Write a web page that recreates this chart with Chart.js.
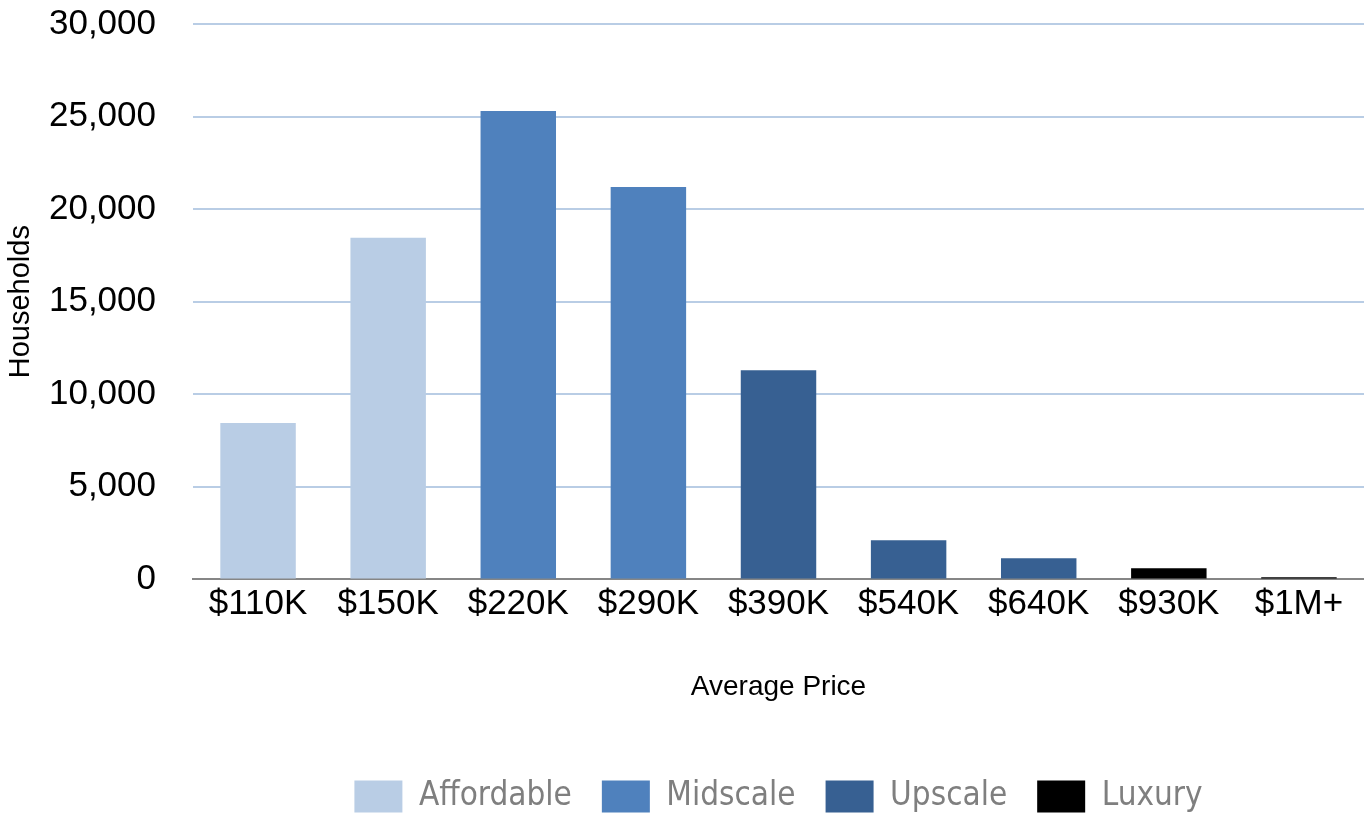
<!DOCTYPE html>
<html>
<head>
<meta charset="utf-8">
<script src="https://cdn.jsdelivr.net/npm/chart.js@4.4.1/dist/chart.umd.min.js"></script>
<style>
    html, body { margin: 0; padding: 0; background: #fff; }
    #wrap { width: 1364px; height: 815px; position: relative; }
</style>
</head>
<body>
<div id="wrap"><canvas id="priceChart"></canvas></div>
<script>
const categories = ['$110K', '$150K', '$220K', '$290K', '$390K', '$540K', '$640K', '$930K', '$1M+'];
const households = [8450, 18450, 25300, 21200, 11300, 2120, 1140, 600, 120];
const segmentOf = ['Affordable', 'Affordable', 'Midscale', 'Midscale', 'Upscale', 'Upscale', 'Upscale', 'Luxury', 'Luxury'];
const segments = ['Affordable', 'Midscale', 'Upscale', 'Luxury'];
const segmentColors = ['#b9cde5', '#4f81bd', '#376092', '#000000'];
const yTicks = [0, 5000, 10000, 15000, 20000, 25000, 30000];

// one dataset per segment, null where the bar belongs to another segment
const datasets = segments.map((seg, i) => ({
    label: seg,
    data: households.map((v, j) => segmentOf[j] === seg ? v : null),
    backgroundColor: segmentColors[i],
    borderWidth: 0,
    barPercentage: 0.58,
    categoryPercentage: 1.0
}));

const tickFont = { family: 'Liberation Sans', size: 35 };

// trim the empty strip under the legend
const legendTrim = {
    id: 'legendTrim',
    beforeLayout(chart) {
        const lg = chart.legend;
        if (!lg || lg._trimmed) return;
        const fit = lg.fit;
        lg.fit = function () { fit.call(this); this.height -= 8; };
        lg._trimmed = true;
    }
};

new Chart(document.getElementById('priceChart').getContext('2d'), {
    type: 'bar',
    data: { labels: categories, datasets: datasets },
    plugins: [legendTrim],
    options: {
        responsive: true,
        maintainAspectRatio: false,
        animation: false,
        layout: { padding: { top: 24, right: 0, bottom: 0, left: 0 } },
        plugins: {
            tooltip: { enabled: false },
            legend: {
                position: 'bottom',
                fullSize: false,
                labels: {
                    boxWidth: 48,
                    boxHeight: 32,
                    padding: 30,
                    color: '#7f7f7f',
                    font: { family: 'DejaVu Sans Condensed', size: 33 }
                }
            }
        },
        scales: {
            x: {
                stacked: true,
                grid: { display: false, drawTicks: false },
                border: { color: '#868686', width: 2 },
                ticks: { color: '#000', font: tickFont, padding: 4 },
                title: {
                    display: true,
                    text: 'Average Price',
                    color: '#000',
                    font: { family: 'Liberation Sans', size: 28 },
                    padding: { top: 41, bottom: 46 }
                }
            },
            y: {
                stacked: true,
                min: 0,
                max: 30000,
                afterBuildTicks: s => { s.ticks = yTicks.map(v => ({ value: v })); },
                afterFit: s => { s.width = 193; s.paddingTop = 0; s.paddingBottom = 0; },
                grid: {
                    drawTicks: false,
                    lineWidth: 2,
                    color: ctx => ctx.tick && ctx.tick.value === 0 ? '#868686' : '#b9cde5'
                },
                border: { display: false },
                ticks: {
                    color: '#000',
                    font: tickFont,
                    padding: 37,
                    callback: v => v.toLocaleString('en-US')
                },
                title: {
                    display: true,
                    text: 'Households',
                    color: '#000',
                    font: { family: 'Liberation Sans', size: 29 },
                    padding: { top: 4, bottom: 0 }
                }
            }
        }
    }
});
</script>
</body>
</html>
